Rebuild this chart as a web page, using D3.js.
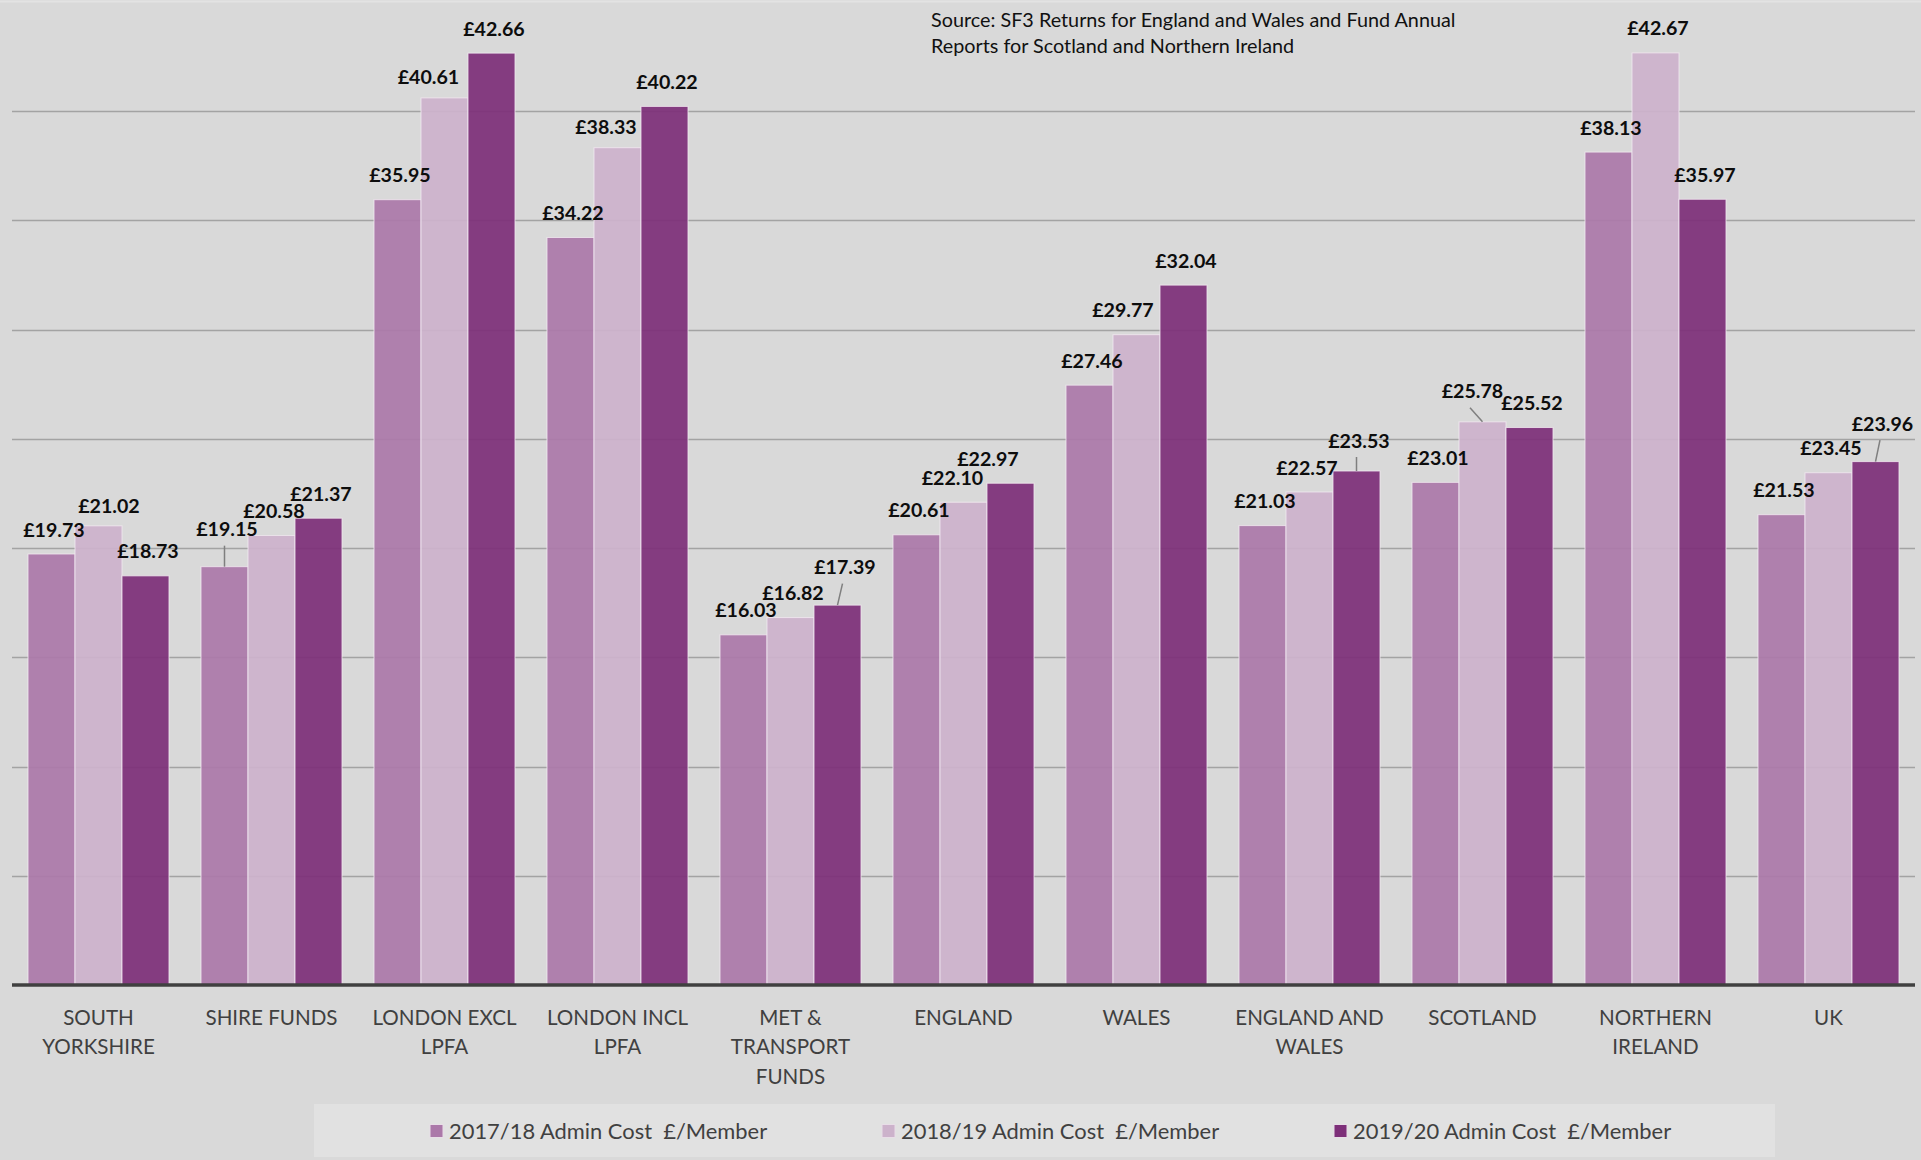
<!DOCTYPE html>
<html>
<head>
<meta charset="utf-8">
<script src="https://cdn.jsdelivr.net/npm/d3@7"></script>
<style>
  html, body { margin: 0; padding: 0; background: #D9D9D9; }
  svg { display: block; }
  text { font-family: Lato, "Open Sans", sans-serif; }
</style>
</head>
<body>
<div id="chart"></div>
<script>
// ---------------- data ----------------
const categories = [
  "SOUTH\nYORKSHIRE", "SHIRE FUNDS", "LONDON EXCL\nLPFA", "LONDON INCL\nLPFA",
  "MET &\nTRANSPORT\nFUNDS", "ENGLAND", "WALES", "ENGLAND AND\nWALES",
  "SCOTLAND", "NORTHERN\nIRELAND", "UK"
];
const seriesNames = [
  "2017/18 Admin Cost  £/Member",
  "2018/19 Admin Cost  £/Member",
  "2019/20 Admin Cost  £/Member"
];
const values2017 = [19.73, 19.15, 35.95, 34.22, 16.03, 20.61, 27.46, 21.03, 23.01, 38.13, 21.53];
const values2018 = [21.02, 20.58, 40.61, 38.33, 16.82, 22.10, 29.77, 22.57, 25.78, 42.67, 23.45];
const values2019 = [18.73, 21.37, 42.66, 40.22, 17.39, 22.97, 32.04, 23.53, 25.52, 35.97, 23.96];
const yTicks = [0, 5, 10, 15, 20, 25, 30, 35, 40, 45];
const sourceLines = [
  "Source: SF3 Returns for England and Wales and Fund Annual",
  "Reports for Scotland and Northern Ireland"
];

// ---------------- layout (label nudges in px, leader line flag) ----------------
const labelNudge2017 = [[0,0,0],[0,-13,1],[0,0,0],[0,0,0],[0,0,0],[0,0,0],[0,0,0],[0,0,0],[0,0,0],[0,0,0],[0,0,0]];
const labelNudge2018 = [[8,5,0],[0,0,0],[-18.5,3.5,0],[-14,4,0],[0,0,0],[-13.5,0,0],[-16,0,0],[-5,1,0],[-12.5,-6,1],[0,0,0],[0,0,0]];
const labelNudge2019 = [[0,0,0],[0,0,0],[0,0,0],[0,0,0],[5,-13.5,1],[-25,0,0],[0,0,0],[0,-6,1],[0,0,0],[0,0,0],[4.5,-13.5,1]];

const allValues = [values2017, values2018, values2019];
const allNudges = [labelNudge2017, labelNudge2018, labelNudge2019];
const colors = ["#AB78A9", "#CCB2CB", "#7D2F79"];

const W = 1921, H = 1160;
const svg = d3.select("#chart").append("svg").attr("width", W).attr("height", H);
svg.append("rect").attr("width", W).attr("height", H).attr("fill", "#D9D9D9");

const x0 = d3.scaleBand().domain(categories).range([12, 1915]).paddingInner(0.185).paddingOuter(0.0925);
const x1 = d3.scaleBand().domain(seriesNames).range([0, x0.bandwidth()]);
const y = d3.scaleLinear().domain([0, 45]).range([985, 2]);

// top border line
svg.append("line").attr("x1", 0).attr("x2", W).attr("y1", 1.5).attr("y2", 1.5)
  .attr("stroke", "#E3E3E3").attr("stroke-width", 2);

// gridlines
svg.append("g").selectAll("line").data(yTicks.filter(t => t > 0 && t < 45)).join("line")
  .attr("x1", 12).attr("x2", 1915)
  .attr("y1", d => Math.round(y(d)) + 0.5).attr("y2", d => Math.round(y(d)) + 0.5)
  .attr("stroke", "#A3A3A3").attr("stroke-width", 1.5);

// bars
const rows = [];
seriesNames.forEach((s, si) => {
  categories.forEach((c, ci) => {
    rows.push({ s, si, c, ci, v: allValues[si][ci], nudge: allNudges[si][ci] });
  });
});

svg.append("g").selectAll("rect").data(rows).join("rect")
  .attr("x", d => x0(d.c) + x1(d.s))
  .attr("width", x1.bandwidth())
  .attr("y", d => y(d.v))
  .attr("height", d => y(0) - y(d.v))
  .attr("fill", d => colors[d.si])
  .attr("fill-opacity", 0.93)
  .attr("stroke", "#F2EAF1")
  .attr("stroke-opacity", 0.8)
  .attr("stroke-width", 1);

// axis line
svg.append("line").attr("x1", 12).attr("x2", 1915).attr("y1", y(0)).attr("y2", y(0))
  .attr("stroke", "#404040").attr("stroke-width", 3.5);

// data labels
const fmt = v => "£" + d3.format(".2f")(v);
function labelPos(d) {
  const cx = x0(d.c) + x1(d.s) + x1.bandwidth() / 2;
  return { bx: cx, by: y(d.v), lx: cx + 2.5 + d.nudge[0], ly: y(d.v) - 24.5 + d.nudge[1] };
}
svg.append("g").selectAll("line").data(rows.filter(d => d.nudge[2])).join("line")
  .attr("x1", d => labelPos(d).lx - 2.5)
  .attr("y1", d => labelPos(d).ly + 16.5)
  .attr("x2", d => labelPos(d).bx)
  .attr("y2", d => labelPos(d).by)
  .attr("stroke", "#7F7F7F").attr("stroke-width", 1.5);

svg.append("g").selectAll("text").data(rows).join("text")
  .attr("x", d => labelPos(d).lx)
  .attr("y", d => labelPos(d).ly + 7)
  .attr("text-anchor", "middle")
  .attr("font-weight", 700)
  .attr("font-size", 19.6)
  .attr("fill", "#0D0D0D")
  .text(d => fmt(d.v));

// category labels
const catG = svg.append("g");
categories.forEach(c => {
  const lines = c.split("\n");
  const t = catG.append("text")
    .attr("x", x0(c) + x0.bandwidth() / 2)
    .attr("y", 1025)
    .attr("text-anchor", "middle")
    .attr("font-size", 20.6)
    .attr("fill", "#404040");
  lines.forEach((ln, i) => {
    t.append("tspan").attr("x", x0(c) + x0.bandwidth() / 2).attr("y", 1025 + i * 29.3).text(ln);
  });
});

// source text
const src = svg.append("text").attr("font-size", 19.8).attr("fill", "#111");
sourceLines.forEach((ln, i) => {
  src.append("tspan").attr("x", 931).attr("y", 26.7 + i * 26.7).text(ln);
});

// legend
svg.append("rect").attr("x", 314).attr("y", 1104).attr("width", 1461).attr("height", 53).attr("fill", "#E1E1E1");
const leg = svg.append("g").selectAll("g").data(seriesNames).join("g")
  .attr("transform", (d, i) => `translate(${430 + i * 452},1124.5)`);
leg.append("rect").attr("width", 13).attr("height", 13)
  .attr("fill", (d, i) => colors[i]).attr("stroke", "#E8DDE7").attr("stroke-width", 1);
leg.append("text").attr("x", 19).attr("y", 14.5)
  .attr("font-size", 21.9).attr("fill", "#404040")
  .style("white-space", "pre")
  .text(d => d);
</script>
</body>
</html>
